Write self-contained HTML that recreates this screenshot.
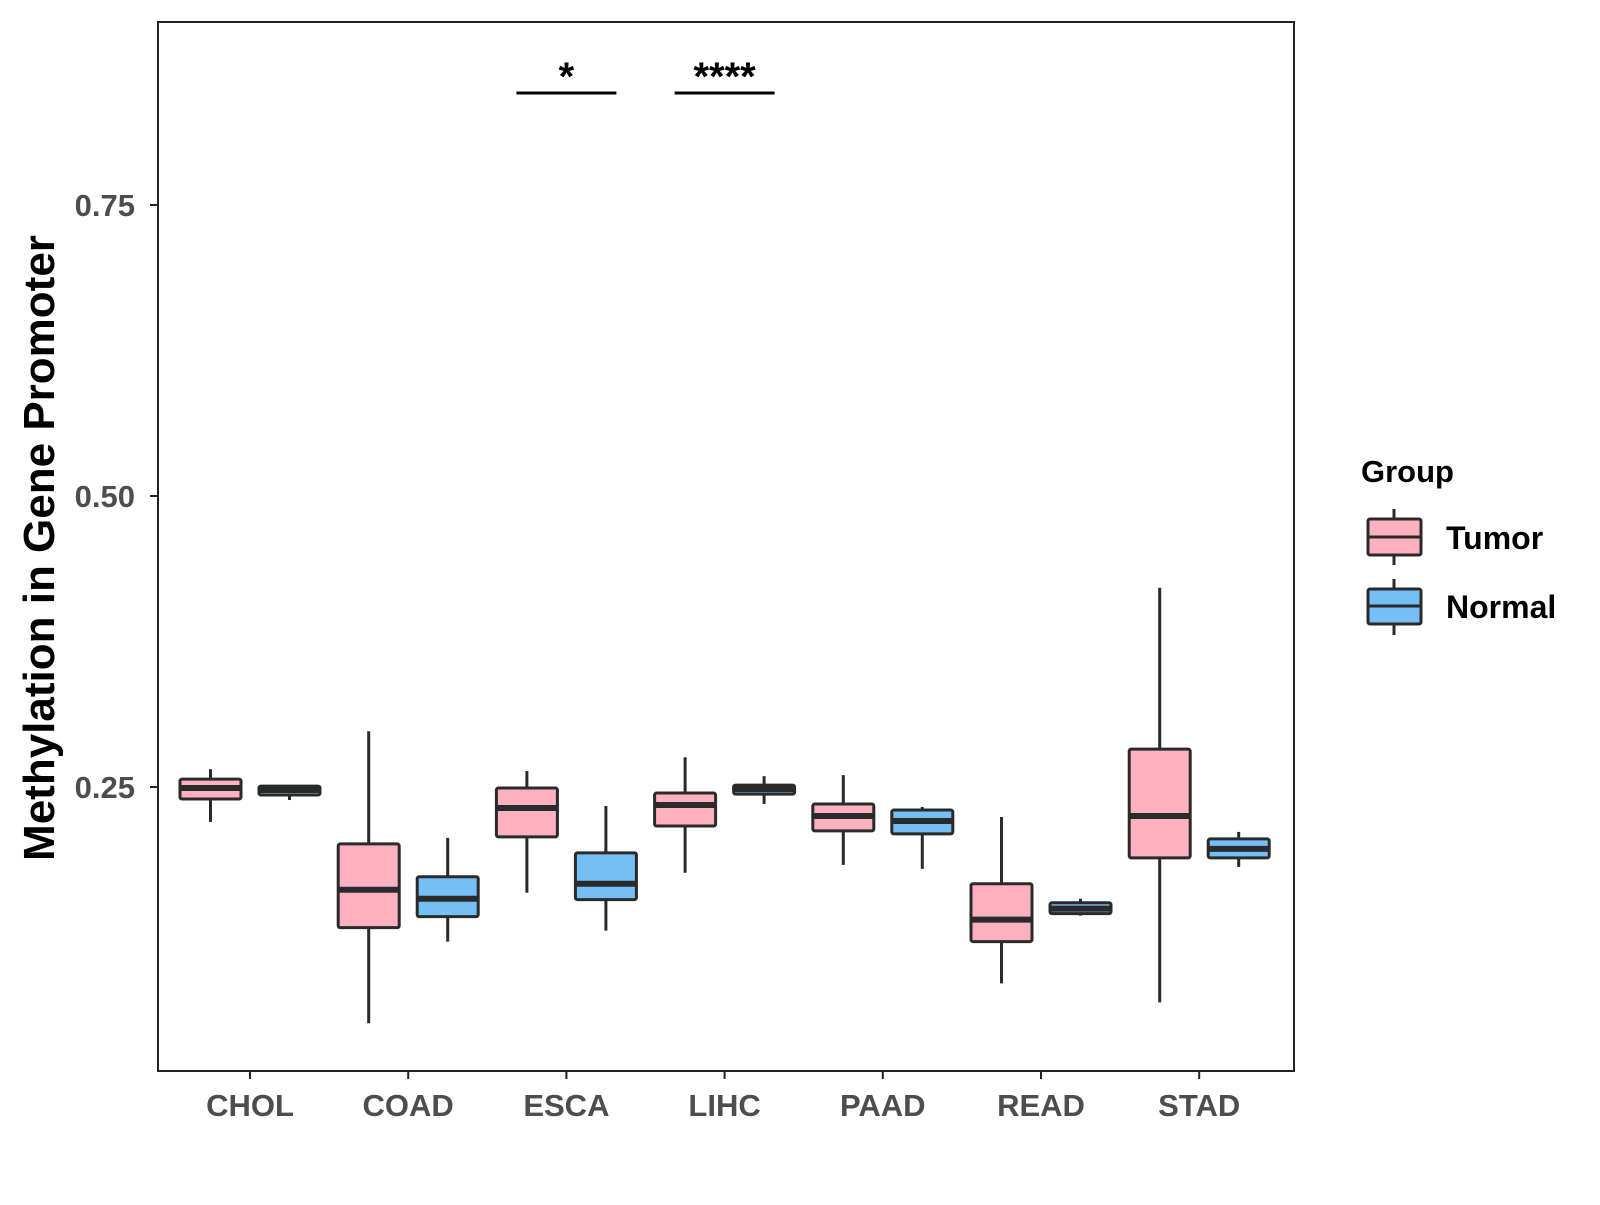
<!DOCTYPE html>
<html><head><meta charset="utf-8"><style>
body{margin:0;background:#fff}
svg text{font-family:"Liberation Sans",Arial,sans-serif;font-weight:bold}
</style></head><body>
<svg id="chart" width="1600" height="1200" viewBox="0 0 1600 1200">
<rect x="0" y="0" width="1600" height="1200" fill="#fff"/>
<rect x="158" y="22" width="1136" height="1049" fill="none" stroke="#222" stroke-width="2"/>
<g id="marks"></g>
<text x="0" y="0" transform="translate(54,548) rotate(-90)" text-anchor="middle" font-size="44" fill="#000">Methylation in Gene Promoter</text>
<text x="1361" y="482" font-size="31" fill="#000">Group</text>
<g>
<line x1="1394" y1="509" x2="1394" y2="565" stroke="#2a2a2a" stroke-width="3"/>
<rect x="1368" y="519" width="53" height="36" fill="#FDB0C0" stroke="#2a2a2a" stroke-width="3" rx="2"/>
<line x1="1368" y1="537" x2="1421" y2="537" stroke="#2a2a2a" stroke-width="3"/>
<text x="1446" y="549" font-size="32" fill="#000">Tumor</text></g>
<g>
<line x1="1394" y1="579" x2="1394" y2="635" stroke="#2a2a2a" stroke-width="3"/>
<rect x="1368" y="589" width="53" height="35" fill="#75BFF7" stroke="#2a2a2a" stroke-width="3" rx="2"/>
<line x1="1368" y1="606" x2="1421" y2="606" stroke="#2a2a2a" stroke-width="3"/>
<text x="1446" y="618" font-size="32" fill="#000">Normal</text></g>
</svg>
<script>
const categories=["CHOL","COAD","ESCA","LIHC","PAAD","READ","STAD"];
// [whiskerHigh, q3, median, q1, whiskerLow]
const tumorStats=[[0.2653,0.2568,0.2491,0.2397,0.2200],[0.2979,0.2011,0.1617,0.1292,0.0470],[0.2636,0.2491,0.2320,0.2071,0.1592],[0.2756,0.2448,0.2345,0.2165,0.1763],[0.2602,0.2354,0.2251,0.2123,0.1831],[0.2242,0.1669,0.1361,0.1172,0.0813],[0.4212,0.2825,0.2251,0.1891,0.0650]];
const normalStats=[[0.2508,0.2508,0.2474,0.2431,0.2388],[0.2063,0.1729,0.1540,0.1386,0.1172],[0.2337,0.1934,0.1669,0.1532,0.1266],[0.2593,0.2516,0.2482,0.2439,0.2354],[0.2328,0.2302,0.2208,0.2097,0.1797],[0.1540,0.1506,0.1455,0.1412,0.1395],[0.2114,0.2054,0.1968,0.1891,0.1814]];
const yTicks=[0.25,0.50,0.75];
const yTickLabels=["0.25","0.50","0.75"];
const sigCategories=["ESCA","LIHC"];
const sigLabels=["*","****"];
const NS="http://www.w3.org/2000/svg";
const svg=document.getElementById('marks');
function y(v){return 787-(v-0.25)*1164;}
function x(i){return 250+i*158.2;}
function mk(t,a,p){const e=document.createElementNS(NS,t);for(const k in a)e.setAttribute(k,a[k]);(p||svg).appendChild(e);return e;}
yTicks.forEach((v,i)=>{
 const g=mk('g',{});
 
 
 mk('line',{x1:150,x2:158,y1:y(v),y2:y(v),stroke:'#222','stroke-width':2},g);
 const t=mk('text',{x:135,y:y(v)+11,'text-anchor':'end','font-size':31,fill:'#4d4d4d'},g);t.textContent=yTickLabels[i];
});
categories.forEach((c,i)=>{
 const g=mk('g',{});
 
 
 mk('line',{x1:x(i),x2:x(i),y1:1071,y2:1079,stroke:'#222','stroke-width':2},g);
 const t=mk('text',{x:x(i),y:1116,'text-anchor':'middle','font-size':31,fill:'#4d4d4d'},g);t.textContent=c;
});
function box(s,cx,fill,name){
 const g=mk('g',{});
 
 
 mk('line',{x1:cx,x2:cx,y1:y(s[0]),y2:y(s[4]),stroke:'#2a2a2a','stroke-width':3},g);
 mk('rect',{x:cx-30.5,y:y(s[1]),width:61,height:Math.max(y(s[3])-y(s[1]),1),fill:fill,stroke:'#2a2a2a','stroke-width':3,rx:2},g);
 mk('line',{x1:cx-30.5,x2:cx+30.5,y1:y(s[2]),y2:y(s[2]),stroke:'#2a2a2a','stroke-width':6},g);
}
categories.forEach((c,i)=>{
 box(tumorStats[i],x(i)-39.5,'#FDB0C0','box-'+c.toLowerCase()+'-tumor');
 box(normalStats[i],x(i)+39.5,'#75BFF7','box-'+c.toLowerCase()+'-normal');
});
sigCategories.forEach((c,k)=>{
 const i=categories.indexOf(c);
 const g=mk('g',{});
 
 
 mk('line',{x1:x(i)-50,x2:x(i)+50,y1:93,y2:93,stroke:'#000','stroke-width':3},g);
 const t=mk('text',{x:x(i),y:90,'text-anchor':'middle','font-size':40,fill:'#000'},g);t.textContent=sigLabels[k];
});
</script>
</body></html>
